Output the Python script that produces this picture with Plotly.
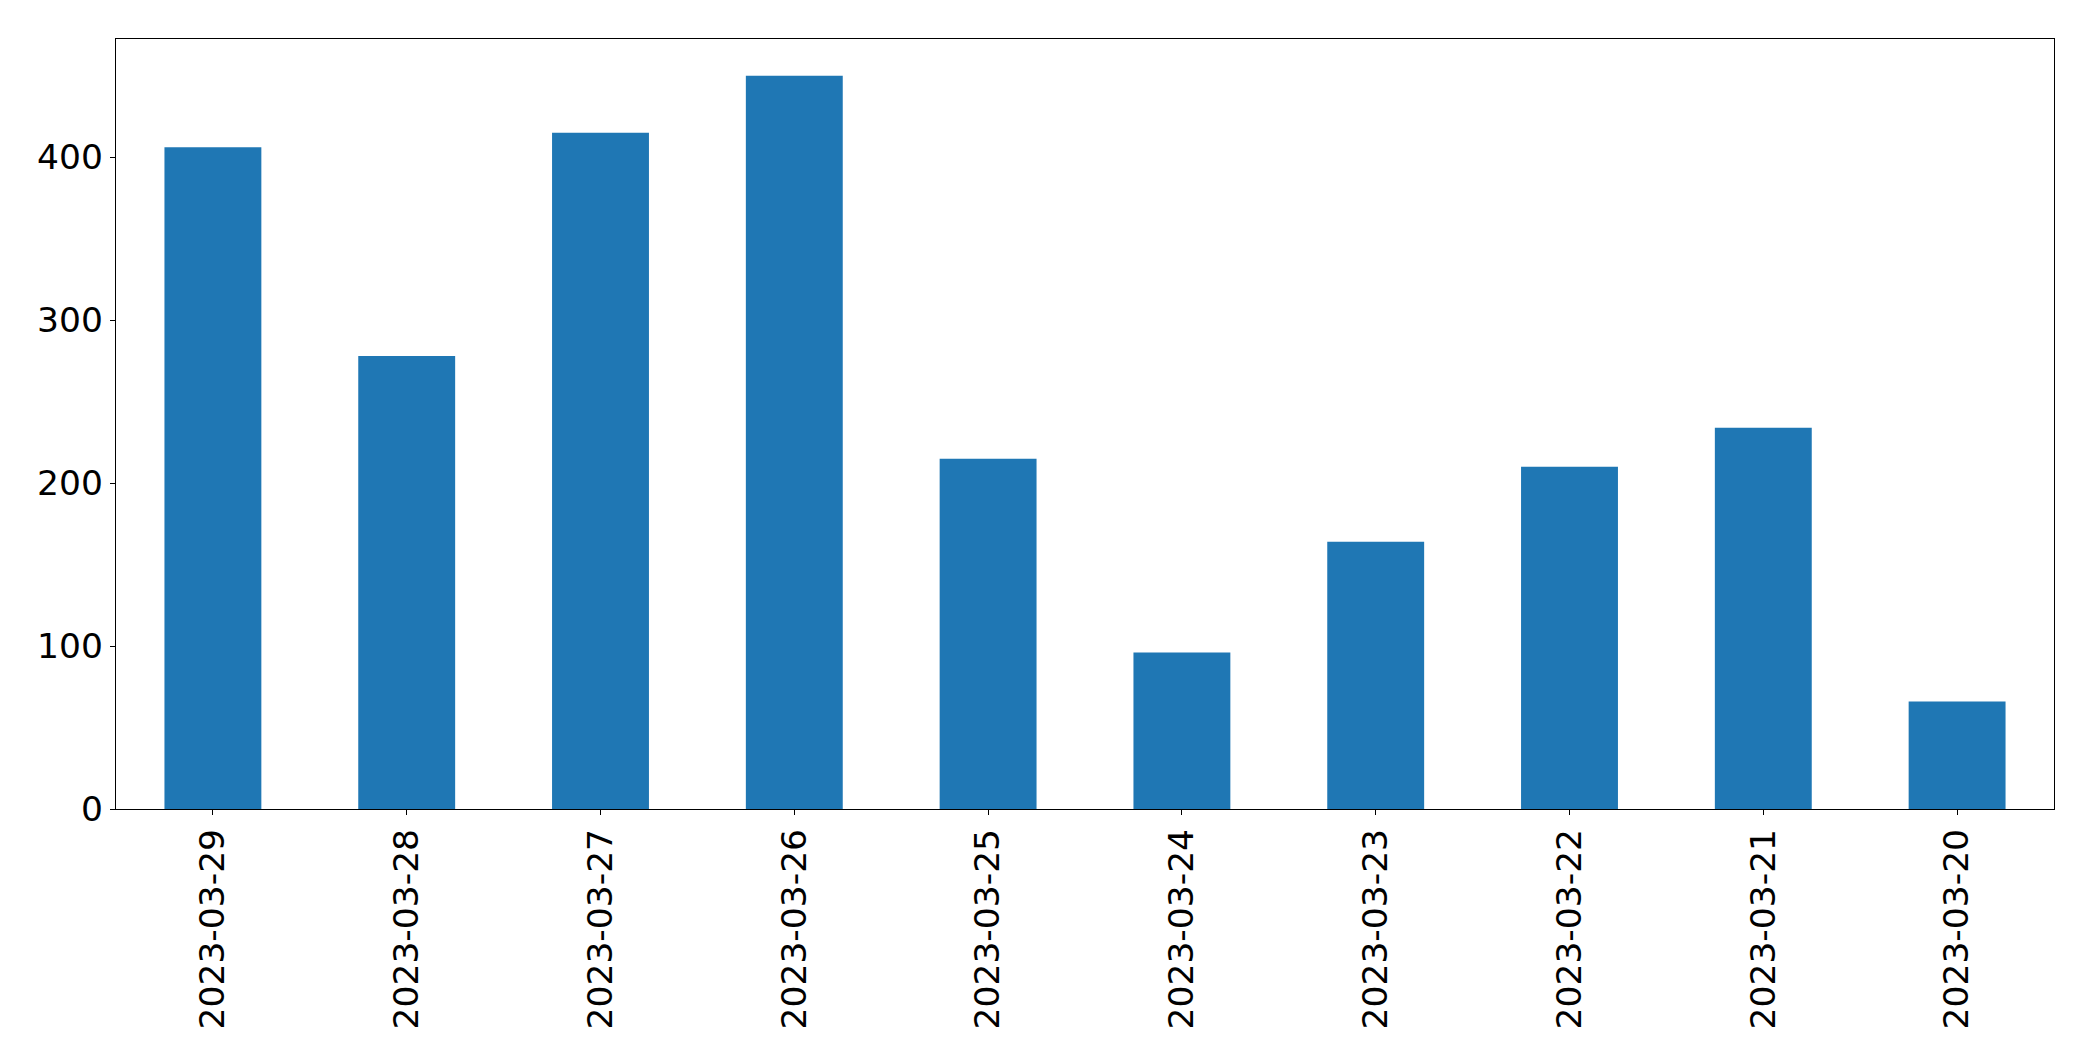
import plotly.graph_objects as go

dates = ["2023-03-29", "2023-03-28", "2023-03-27", "2023-03-26", "2023-03-25",
         "2023-03-24", "2023-03-23", "2023-03-22", "2023-03-21", "2023-03-20"]
values = [406, 278, 415, 450, 215, 96, 164, 210, 234, 66]
y_ticks = [0, 100, 200, 300, 400]

fig = go.Figure(go.Bar(x=dates, y=values, width=0.5, marker_color="#1f77b4",
                       marker_line_width=0))

axis_common = dict(showline=True, linecolor="black", linewidth=1.3, mirror=True,
                   ticks="outside", ticklen=5, tickwidth=1.3, tickcolor="black",
                   showgrid=False, zeroline=False,
                   tickfont=dict(family="DejaVu Sans", size=34.5, color="black"))

fig.update_layout(
    width=2093, height=1061,
    margin=dict(l=108, r=47, t=31, b=260),
    paper_bgcolor="white", plot_bgcolor="white",
    showlegend=False,
    bargap=0.5,
)
fig.update_xaxes(type="category", range=[-0.5, 9.5], tickangle=-90,
                 ticklabelstandoff=0, **axis_common)
fig.update_yaxes(range=[0, 472.5], tickvals=y_ticks, ticklabelstandoff=0,
                 **axis_common)

fig.write_html("out.html")
